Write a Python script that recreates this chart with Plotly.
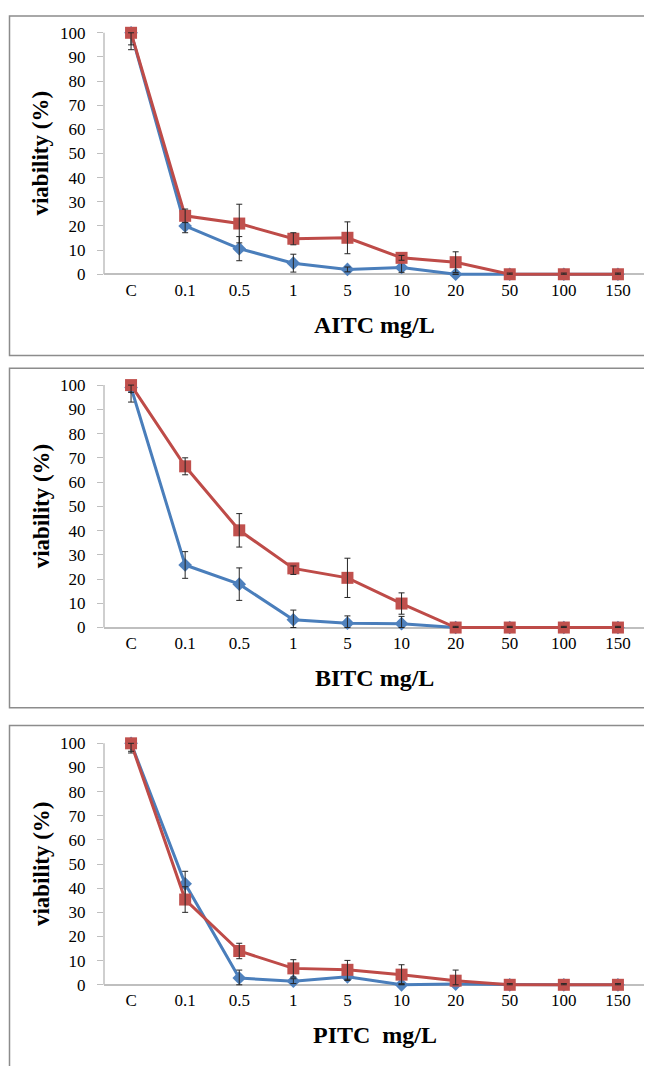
import plotly.graph_objects as go

# The page body adds an 8px margin, so the figure is drawn 8px in from the window edge.
OFF = 8
W, H = 652 - OFF, 1066 - OFF

categories = ["C", "0.1", "0.5", "1", "5", "10", "20", "50", "100", "150"]
x_titles = ["AITC mg/L", "BITC mg/L", "PITC\u00a0 mg/L"]
y_title = "viability (%)"
y_ticks = [0, 10, 20, 30, 40, 50, 60, 70, 80, 90, 100]

# AITC
aitc_blue = [100, 20, 10.6, 4.6, 2, 2.8, 0, 0, 0, 0]
aitc_blue_plus = [0, 2.8, 5, 3.7, 1, 2, 0, 0, 0, 0]
aitc_blue_minus = [7, 2.8, 5, 3.7, 1, 2, 0, 0, 0, 0]
aitc_red = [100, 24.2, 21, 14.7, 15.1, 6.8, 5, 0, 0, 0]
aitc_red_plus = [0, 2.8, 8, 2.5, 6.6, 1, 4.3, 0.5, 0.5, 0.5]
aitc_red_minus = [5, 2.8, 8, 2.5, 6.6, 1, 4.3, 0, 0, 0]

# BITC
bitc_blue = [99, 25.8, 17.9, 3.2, 1.8, 1.6, 0, 0, 0, 0]
bitc_blue_plus = [0, 5.5, 6.7, 4, 3, 3, 0, 0, 0, 0]
bitc_blue_minus = [6, 5.5, 6.7, 3.2, 1.8, 1.6, 0, 0, 0, 0]
bitc_red = [100, 66.5, 40.1, 24.4, 20.5, 9.9, 0, 0, 0, 0]
bitc_red_plus = [0, 3.5, 6.9, 1, 8.1, 4.4, 0.5, 0.5, 0.5, 0.5]
bitc_red_minus = [3, 3.5, 6.9, 2.5, 8.1, 4.4, 0, 0, 0, 0]

# PITC
pitc_blue = [100, 41.8, 2.8, 1.5, 3.3, 0, 0.3, 0, 0, 0]
pitc_blue_plus = [0, 5.2, 3.3, 1, 1.5, 0.5, 0.5, 0, 0, 0]
pitc_blue_minus = [4, 5.2, 2.8, 1, 1.5, 0, 0.3, 0, 0, 0]
pitc_red = [100, 35.3, 14, 6.8, 6.2, 4.2, 1.7, 0, 0, 0]
pitc_red_plus = [0, 5.3, 3.2, 3.6, 3.9, 4.1, 4.4, 0.5, 0.5, 0.5]
pitc_red_minus = [3.3, 5.3, 3.2, 3.6, 3.9, 4.1, 1.7, 0, 0, 0]

panels = [
    (aitc_blue, aitc_blue_plus, aitc_blue_minus, aitc_red, aitc_red_plus, aitc_red_minus),
    (bitc_blue, bitc_blue_plus, bitc_blue_minus, bitc_red, bitc_red_plus, bitc_red_minus),
    (pitc_blue, pitc_blue_plus, pitc_blue_minus, pitc_red, pitc_red_plus, pitc_red_minus),
]

# pixel geometry in window coordinates (y of value 100 and value 0) per panel
plot_px = [(28, 272), (384, 629), (746, 990)]
frames_px = [(11, 354), (367, 710), (728, 1090)]
X0, X1 = 104, 645
YMIN, YMAX = -1.5, 101.5

BLUE_LINE, BLUE_MARK = "#4A7EBB", "#4F81BD"
RED_LINE, RED_MARK = "#BE4B48", "#C0504D"
FONT = "Liberation Serif, Times New Roman, serif"

def fx(px):
    return (px - OFF) / W

def fy(px):
    return 1 - (px - OFF) / H

fig = go.Figure()
layout = dict(
    width=W, height=H, margin=dict(l=0, r=0, t=0, b=0),
    paper_bgcolor="white", plot_bgcolor="white", showlegend=False,
    font=dict(family=FONT, color="#000000"),
)
shapes = []
annotations = []

for i, (bv, bp, bm, rv, rp, rm) in enumerate(panels):
    n = i + 1
    xa = "x" if n == 1 else f"x{n}"
    ya = "y" if n == 1 else f"y{n}"
    top, bot = plot_px[i]
    ppu = (bot - top) / 100.0
    dom_top = top - (YMAX - 100) * ppu
    dom_bot = bot + (0 - YMIN) * ppu

    for vals, plus, minus, lc, mc, sym, size in [
        (bv, bp, bm, BLUE_LINE, BLUE_MARK, "diamond", 10.5),
        (rv, rp, rm, RED_LINE, RED_MARK, "square", 12),
    ]:
        fig.add_trace(go.Scatter(
            x=categories, y=vals, mode="lines+markers", xaxis=xa, yaxis=ya,
            line=dict(color=lc, width=3),
            marker=dict(color=mc, symbol=sym, size=size, line=dict(width=0)),
            cliponaxis=False, hoverinfo="skip",
        ))
        fig.add_trace(go.Scatter(
            x=categories, y=vals, mode="markers", xaxis=xa, yaxis=ya,
            marker=dict(color="rgba(0,0,0,0)", size=1),
            error_y=dict(type="data", symmetric=False, array=plus, arrayminus=minus,
                         color="#262626", thickness=1, width=3),
            cliponaxis=False, hoverinfo="skip",
        ))

    xkey = "xaxis" if n == 1 else f"xaxis{n}"
    ykey = "yaxis" if n == 1 else f"yaxis{n}"
    layout[xkey] = dict(
        domain=[fx(X0), fx(X1)], anchor=ya, type="category",
        categoryorder="array", categoryarray=categories,
        range=[-0.5, len(categories) - 0.5],
        showline=False, showgrid=False, zeroline=False,
        ticks="",
        tickfont=dict(family=FONT, size=17, color="#000000"),
    )
    layout[ykey] = dict(
        domain=[fy(dom_bot), fy(dom_top)], anchor=xa,
        range=[YMIN, YMAX], tickvals=y_ticks,
        showline=False, showgrid=False,
        zeroline=True, zerolinecolor="#BFBFBF", zerolinewidth=1.5,
        ticks="outside", ticklen=6, tickcolor="#BFBFBF", tickwidth=1,
        ticklabelstandoff=8,
        tickfont=dict(family=FONT, size=17, color="#000000"),
    )
    # y axis line from 0 to 100
    shapes.append(dict(type="line", xref=f"{xa} domain", yref=ya,
                       x0=0, x1=0, y0=0, y1=100,
                       line=dict(color="#BFBFBF", width=1.5)))
    # panel frame
    ft, fb = frames_px[i]
    shapes.append(dict(type="rect", xref="paper", yref="paper",
                       x0=fx(9.5), x1=1.05, y0=fy(fb), y1=fy(ft),
                       line=dict(color="#8C8C8C", width=1.5), layer="below"))
    # titles
    annotations.append(dict(
        text=f"<b>{x_titles[i]}</b>", xref="paper", yref="paper",
        x=fx((X0 + X1) / 2), y=fy(bot + 51), xanchor="center", yanchor="middle",
        showarrow=False, font=dict(family=FONT, size=24, color="#000000"),
    ))
    annotations.append(dict(
        text=f"<b>{y_title}</b>", xref="paper", yref="paper",
        x=fx(41), y=fy((top + bot) / 2), xanchor="center", yanchor="middle",
        textangle=-90, showarrow=False,
        font=dict(family=FONT, size=23, color="#000000"),
    ))

layout["shapes"] = shapes
layout["annotations"] = annotations
fig.update_layout(**layout)
fig.write_html("out.html")
